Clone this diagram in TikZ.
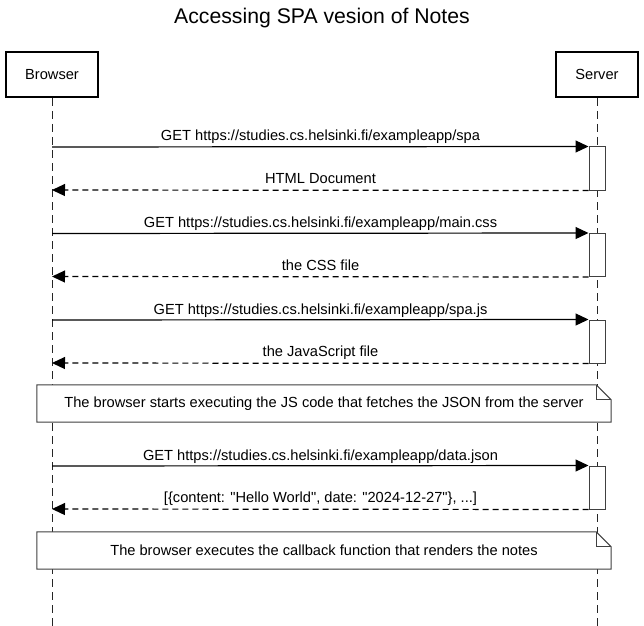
\documentclass[tikz,border=0pt]{standalone}
\usepackage{fontspec}
\setmainfont{Liberation Sans}
\usetikzlibrary{arrows.meta,calc}
\tikzset{
  actor/.style={draw=black, line width=2bp, fill=white, minimum height=45bp, inner sep=0pt, font=\fontsize{14.7}{17}\selectfont},
  lifeline/.style={draw=black!85, line width=1bp, dash pattern=on 8bp off 5bp},
  act/.style={draw=black!75, line width=1bp, fill=white, minimum width=16bp, minimum height=43bp, inner sep=0pt},
  req/.style={draw=black, line width=1.2bp, -{Triangle[length=13bp,width=12bp]}},
  ret/.style={draw=black, line width=1.2bp, dash pattern=on 6bp off 4bp, -{Triangle[length=13bp,width=12bp]}},
  lbl/.style={anchor=base, inner sep=0pt, font=\fontsize{14.7}{17}\selectfont},
  notebox/.style={minimum width=574bp, minimum height=37bp, inner sep=0pt},
  noteline/.style={draw=black!75, line width=1bp, fill=white},
}
\begin{document}
\begin{tikzpicture}[x=1bp,y=-1bp]
\useasboundingbox[fill=white] (0,0) rectangle (644,626);
\node[font=\fontsize{21.3}{24}\selectfont] (title) at (322,18) {Accessing SPA vesion of Notes};

\node[actor, minimum width=91bp] (b) at (52,74.5) {Browser};
\node[actor, minimum width=82bp] (s) at (597,74.5) {Server};
\coordinate (bend) at (52,626);
\coordinate (send) at (597,626);
\draw[lifeline] (b.south) -- (bend);
\draw[lifeline] (s.south) -- (send);

% activations
\node[act] (a1) at (597,168.5) {};
\node[act] (a2) at (597,255) {};
\node[act] (a3) at (597,341.5) {};
\node[act] (a4) at (597,487.5) {};

% lifeline points on browser
\coordinate (q1) at (52,147);
\coordinate (r1) at (52,190);
\coordinate (q2) at (52,233.5);
\coordinate (r2) at (52,276.5);
\coordinate (q3) at (52,320);
\coordinate (r3) at (52,363);
\coordinate (q4) at (52,466);
\coordinate (r4) at (52,509);

\draw[req] (q1) -- (a1.north west);
\node[lbl] (l1) at (320.5,141) {GET https://studies.cs.helsinki.fi/exampleapp/spa};
\draw[ret] (a1.south west) -- (r1);
\node[lbl] (l2) at (320.5,183.5) {HTML Document};

\draw[req] (q2) -- (a2.north west);
\node[lbl] (l3) at (320.5,227.5) {GET https://studies.cs.helsinki.fi/exampleapp/main.css};
\draw[ret] (a2.south west) -- (r2);
\node[lbl] (l4) at (320.5,270) {the CSS file};

\draw[req] (q3) -- (a3.north west);
\node[lbl] (l5) at (320.5,314) {GET https://studies.cs.helsinki.fi/exampleapp/spa.js};
\draw[ret] (a3.south west) -- (r3);
\node[lbl] (l6) at (320.5,356.5) {the JavaScript file};

% note 1
\node[notebox] (n1) at (324,403.5) {};
\draw[noteline] (n1.north west) -- ($(n1.north east)+(-15,0)$) -- ($(n1.north east)+(0,15)$) -- (n1.south east) -- (n1.south west) -- cycle;
\draw[noteline, fill=none] ($(n1.north east)+(-15,0)$) -- ($(n1.north east)+(-15,15)$) -- ($(n1.north east)+(0,15)$);
\node[lbl, anchor=center] (t1) at (n1.center) {The browser starts executing the JS code that fetches the JSON from the server};

\draw[req] (q4) -- (a4.north west);
\node[lbl] (l7) at (320.5,460) {GET https://studies.cs.helsinki.fi/exampleapp/data.json};
\draw[ret] (a4.south west) -- (r4);
\node[lbl] (l8) at (320.5,502.5) {[\{content: \textquotedbl Hello World\textquotedbl, date: \textquotedbl 2024-12-27\textquotedbl\}, ...]};

% note 2
\node[notebox] (n2) at (324,550.5) {};
\draw[noteline] (n2.north west) -- ($(n2.north east)+(-15,0)$) -- ($(n2.north east)+(0,15)$) -- (n2.south east) -- (n2.south west) -- cycle;
\draw[noteline, fill=none] ($(n2.north east)+(-15,0)$) -- ($(n2.north east)+(-15,15)$) -- ($(n2.north east)+(0,15)$);
\node[lbl, anchor=center] (t2) at (n2.center) {The browser executes the callback function that renders the notes};
\end{tikzpicture}
\end{document}
